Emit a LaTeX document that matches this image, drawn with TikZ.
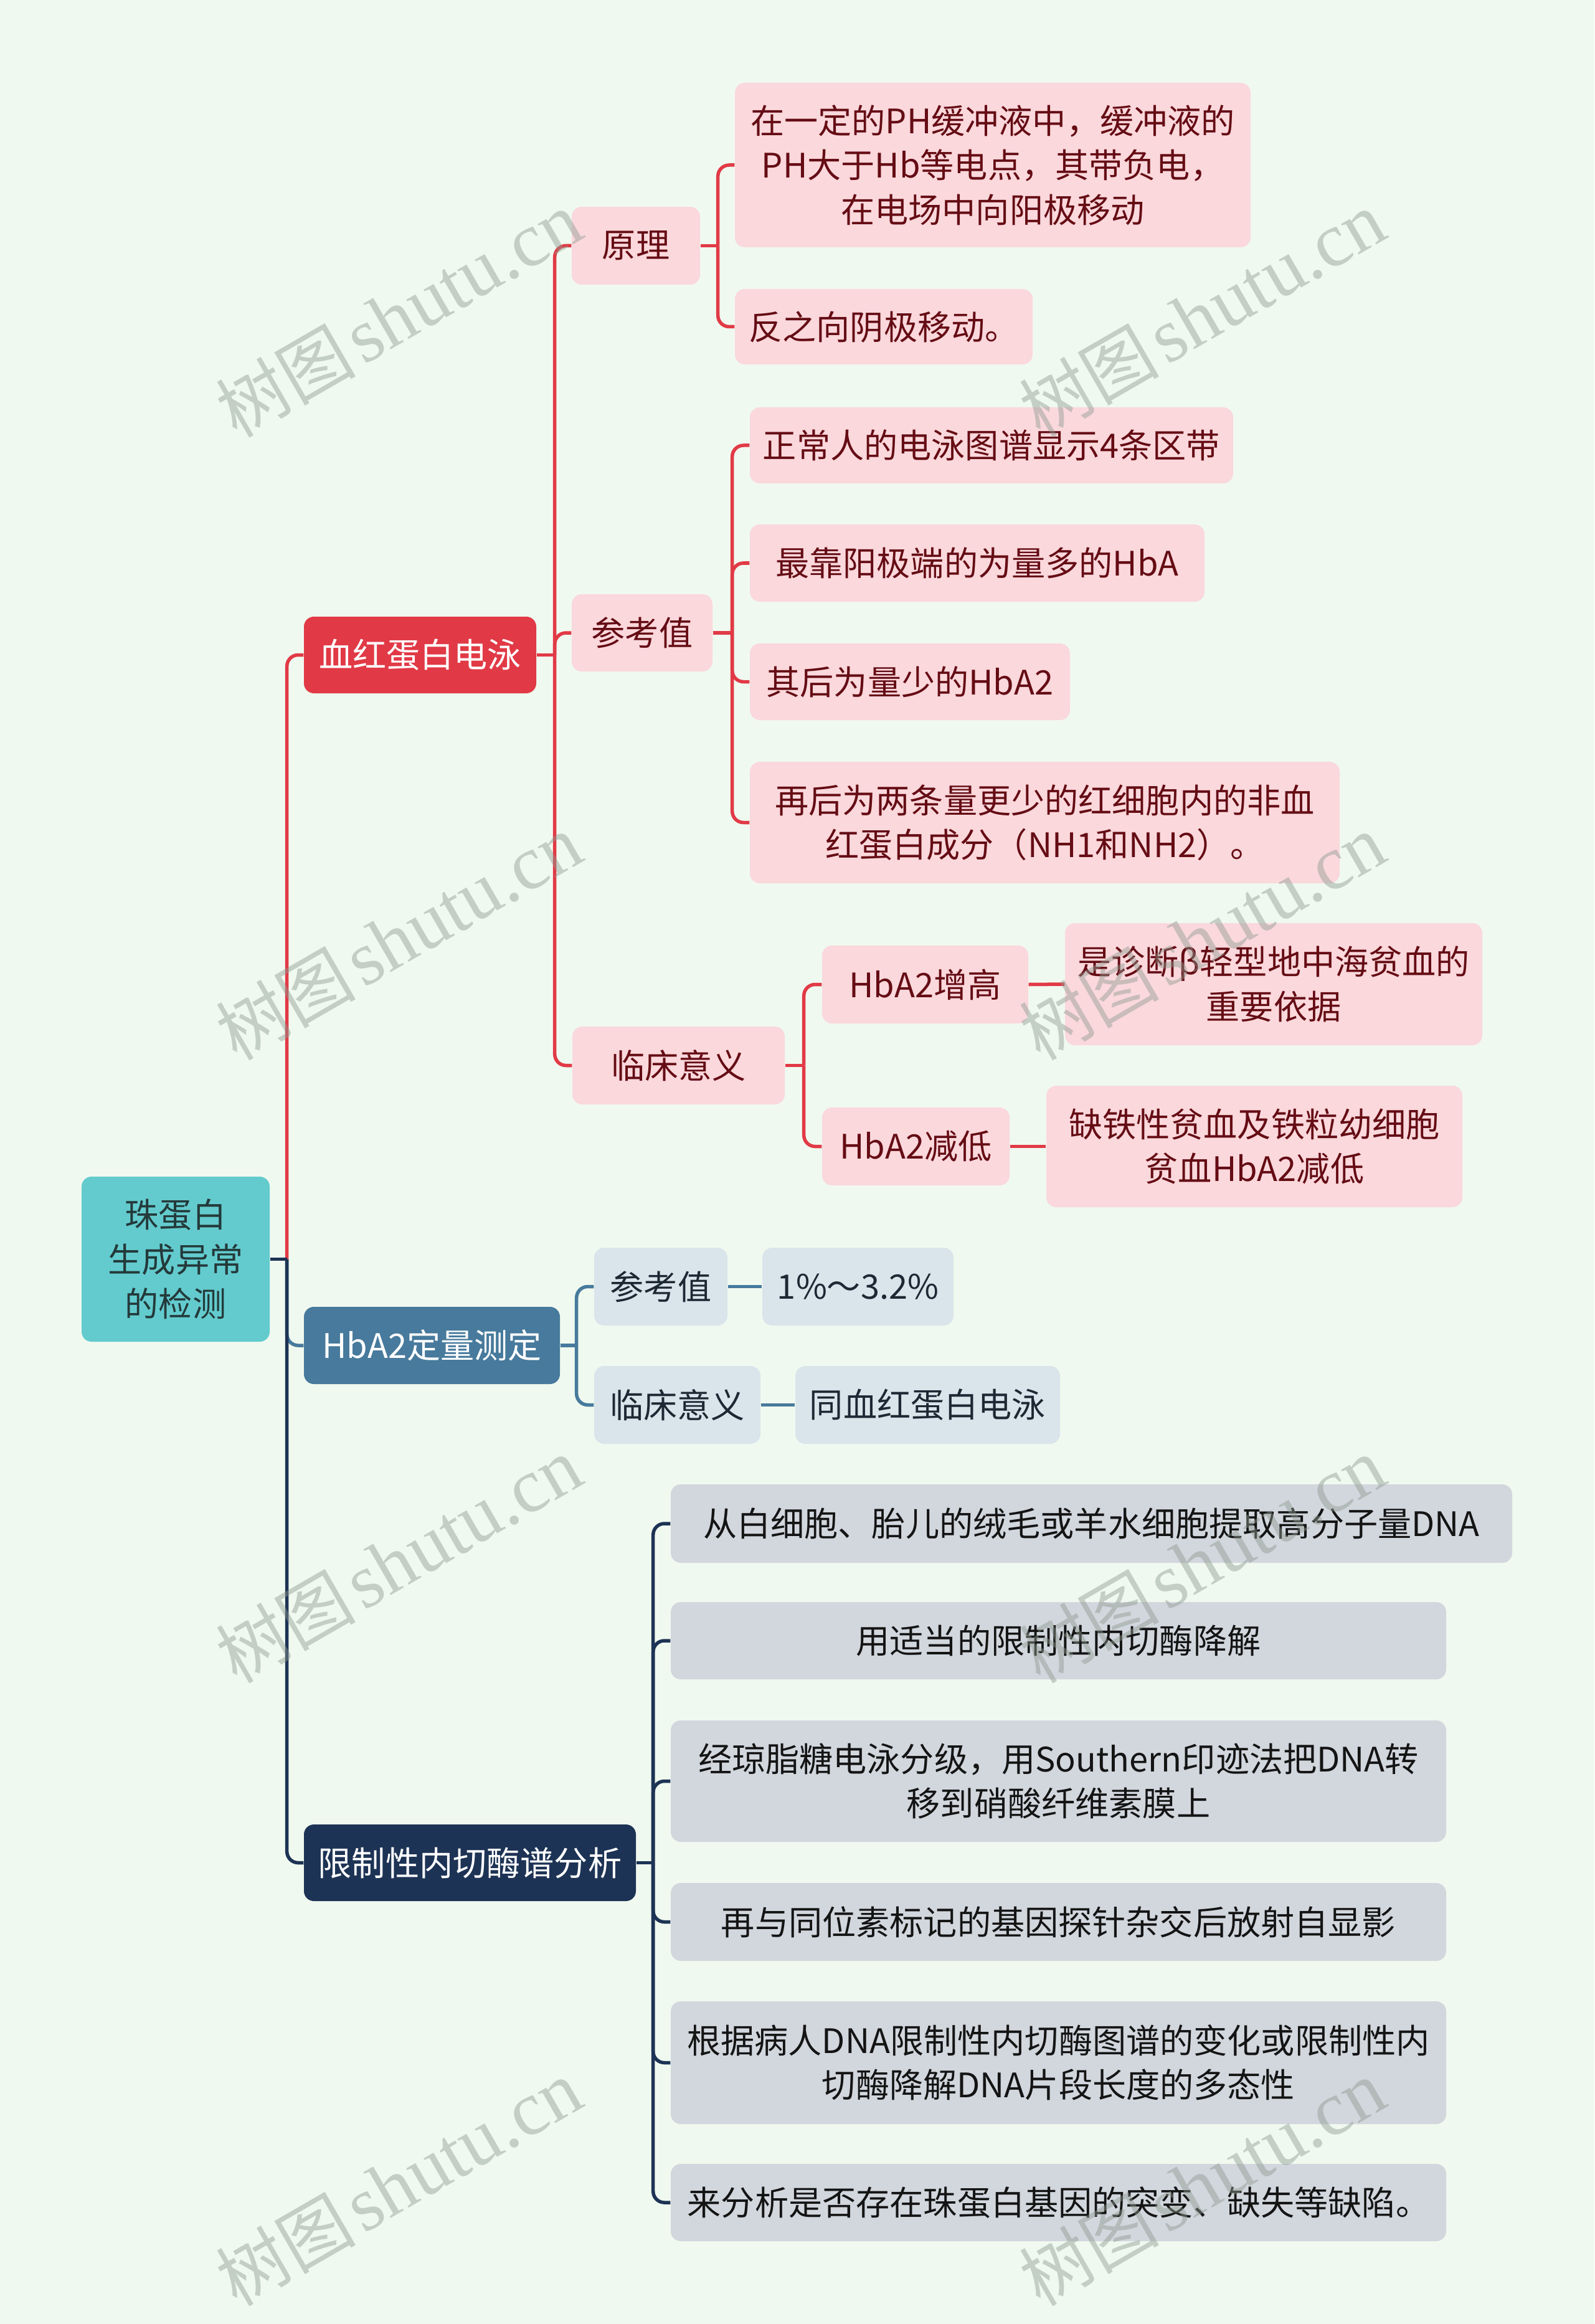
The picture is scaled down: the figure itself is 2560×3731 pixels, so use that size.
\documentclass[tikz,border=0pt]{standalone}
\usepackage{fontspec}
\setmainfont{Noto Sans CJK SC}
\newfontfamily\wmserif{Liberation Serif}
\newfontfamily\wmcjk{Noto Sans CJK SC}
\usetikzlibrary{calc}
\definecolor{bgc}{HTML}{F0F9EF}
\definecolor{rootc}{HTML}{63CBCE}
\definecolor{roottxt}{HTML}{24393A}
\definecolor{redc}{HTML}{E13A46}
\definecolor{pinkc}{HTML}{FAD8DC}
\definecolor{maroon}{HTML}{650C14}
\definecolor{steelc}{HTML}{477A9C}
\definecolor{lbluec}{HTML}{DAE4EB}
\definecolor{lbtxt}{HTML}{1C2833}
\definecolor{navyc}{HTML}{1D3355}
\definecolor{grayc}{HTML}{D2D7DE}
\definecolor{graytxt}{HTML}{141414}
\definecolor{wmc}{HTML}{8E9A90}
\newcommand{\nbox}[7]{%
  \node[#2, minimum width={(#5-#3)*0.01cm}, minimum height={(#6-#4)*0.01cm}] (#1) at ({(#3+#5)/2},{(#4+#6)/2}) {#7};}
\tikzset{
  base/.style={rounded corners=0.16cm, inner sep=0pt, align=center, font={\fontsize{15.4pt}{20.3pt}\selectfont}},
  rootbox/.style={base, fill=rootc, text=roottxt},
  hbbox/.style={base, fill=redc, text=white},
  hqbox/.style={base, fill=steelc, text=white},
  rfbox/.style={base, fill=navyc, text=white},
  pinkbox/.style={base, fill=pinkc, text=maroon},
  lbbox/.style={base, fill=lbluec, text=lbtxt},
  graybox/.style={base, fill=grayc, text=graytxt},
  conn/.style={line width=0.055cm, rounded corners=0.18cm},
  redline/.style={conn, draw=redc},
  steelline/.style={conn, draw=steelc},
  navyline/.style={conn, draw=navyc},
  wm/.style={rotate=30, text=wmc, text opacity=0.45, inner sep=0pt}
}
\begin{document}
\begin{tikzpicture}[x=0.01cm, y=-0.01cm]
\fill[bgc] (0,0) rectangle (2560,3731);
\useasboundingbox (0,0) rectangle (2560,3731);

% nodes
\nbox{root}{rootbox}{131}{1889}{433}{2154}{珠蛋白\\生成异常\\的检测}
\nbox{hb}{hbbox}{488}{990}{861}{1113}{血红蛋白电泳}
\nbox{hq}{hqbox}{488}{2098}{899}{2222}{HbA2定量测定}
\nbox{rf}{rfbox}{488}{2929}{1021}{3052}{限制性内切酶谱分析}

\nbox{yl}{pinkbox}{918}{332}{1124}{457}{原理}
\nbox{ck}{pinkbox}{918}{954}{1144}{1078}{参考值}
\nbox{lc}{pinkbox}{919}{1648}{1260}{1773}{临床意义}

\nbox{yla}{pinkbox}{1180}{133}{2008}{397}{在一定的PH缓冲液中，缓冲液的\\PH大于Hb等电点，其带负电，\\在电场中向阳极移动}
\nbox{ylb}{pinkbox}{1180}{464}{1658}{585}{反之向阴极移动。}

\nbox{cka}{pinkbox}{1204}{654}{1980}{776}{正常人的电泳图谱显示4条区带}
\nbox{ckb}{pinkbox}{1204}{842}{1934}{966}{最靠阳极端的为量多的HbA}
\nbox{ckc}{pinkbox}{1204}{1033}{1718}{1156}{其后为量少的HbA2}
\nbox{ckd}{pinkbox}{1204}{1223}{2151}{1418}{再后为两条量更少的红细胞内的非血\\红蛋白成分（NH1和NH2）。}

\nbox{lca}{pinkbox}{1320}{1518}{1651}{1643}{HbA2增高}
\nbox{lcb}{pinkbox}{1320}{1778}{1621}{1903}{HbA2减低}
\nbox{lcan}{pinkbox}{1710}{1482}{2380}{1678}{是诊断β轻型地中海贫血的\\重要依据}
\nbox{lcbn}{pinkbox}{1680}{1743}{2348}{1938}{缺铁性贫血及铁粒幼细胞\\贫血HbA2减低}

\nbox{hqa}{lbbox}{954}{2003}{1168}{2128}{参考值}
\nbox{hqan}{lbbox}{1224}{2003}{1531}{2128}{1\%～3.2\%}
\nbox{hqb}{lbbox}{954}{2193}{1221}{2318}{临床意义}
\nbox{hqbn}{lbbox}{1277}{2193}{1702}{2318}{同血红蛋白电泳}

\nbox{rfa}{graybox}{1077}{2383}{2428}{2509}{从白细胞、胎儿的绒毛或羊水细胞提取高分子量DNA}
\nbox{rfb}{graybox}{1077}{2572}{2322}{2696}{用适当的限制性内切酶降解}
\nbox{rfc}{graybox}{1077}{2762}{2322}{2957}{经琼脂糖电泳分级，用Southern印迹法把DNA转\\移到硝酸纤维素膜上}
\nbox{rfd}{graybox}{1077}{3023}{2322}{3148}{再与同位素标记的基因探针杂交后放射自显影}
\nbox{rfe}{graybox}{1077}{3213}{2322}{3410}{根据病人DNA限制性内切酶图谱的变化或限制性内\\切酶降解DNA片段长度的多态性}
\nbox{rff}{graybox}{1077}{3474}{2322}{3598}{来分析是否存在珠蛋白基因的突变、缺失等缺陷。}

% junction coordinates
\coordinate (j0) at ($(root.east)+(27,0)$);
\coordinate (j1) at ($(hb.east)+(29,0)$);
\coordinate (j11) at ($(yl.east)+(28,0)$);
\coordinate (j12) at ($(ck.east)+(31,0)$);
\coordinate (j13) at ($(lc.east)+(30,0)$);
\coordinate (j2) at ($(hq.east)+(26,0)$);
\coordinate (j3) at ($(rf.east)+(27,0)$);

% main branches
\draw[steelline] (j0) |- (hq.west);
\draw[redline] (j0) |- (hb.west);
\draw[navyline] (j0) |- (rf.west);
\draw[navyline] (root.east) -- (j0);

% red subtree
\draw[redline] (hb.east) -- (j1);
\draw[redline] (j1) |- (yl.west);
\draw[redline] (j1) |- (ck.west);
\draw[redline] (j1) |- (lc.west);
\draw[redline] (yl.east) -- (j11);
\draw[redline] (j11) |- (yla.west);
\draw[redline] (j11) |- (ylb.west);
\draw[redline] (ck.east) -- (j12);
\draw[redline] (j12) |- (cka.west);
\draw[redline] (j12) |- (ckb.west);
\draw[redline] (j12) |- (ckc.west);
\draw[redline] (j12) |- (ckd.west);
\draw[redline] (lc.east) -- (j13);
\draw[redline] (j13) |- (lca.west);
\draw[redline] (j13) |- (lcb.west);
\draw[redline] (lca.east) -- (lcan.west);
\draw[redline] (lcb.east) -- (lcbn.west);

% steel subtree
\draw[steelline] (hq.east) -- (j2);
\draw[steelline] (j2) |- (hqa.west);
\draw[steelline] (j2) |- (hqb.west);
\draw[steelline] (hqa.east) -- (hqan.west);
\draw[steelline] (hqb.east) -- (hqbn.west);

% navy subtree
\draw[navyline] (rf.east) -- (j3);
\draw[navyline] (j3) |- (rfa.west);
\draw[navyline] (j3) |- (rfb.west);
\draw[navyline] (j3) |- (rfc.west);
\draw[navyline] (j3) |- (rfd.west);
\draw[navyline] (j3) |- (rfe.west);
\draw[navyline] (j3) |- (rff.west);

% watermarks
\foreach \wx/\wy [count=\i] in {640/505, 1930/505, 640/1505, 1930/1505, 640/2505, 1930/2505, 640/3505, 1930/3505}{
  \node[wm] (wm\i) at (\wx,\wy) {{\wmcjk\fontsize{32pt}{32pt}\selectfont 树图}\hspace{0.3em}{\wmserif\fontsize{35pt}{35pt}\selectfont shutu.cn}};
}
\end{tikzpicture}
\end{document}
